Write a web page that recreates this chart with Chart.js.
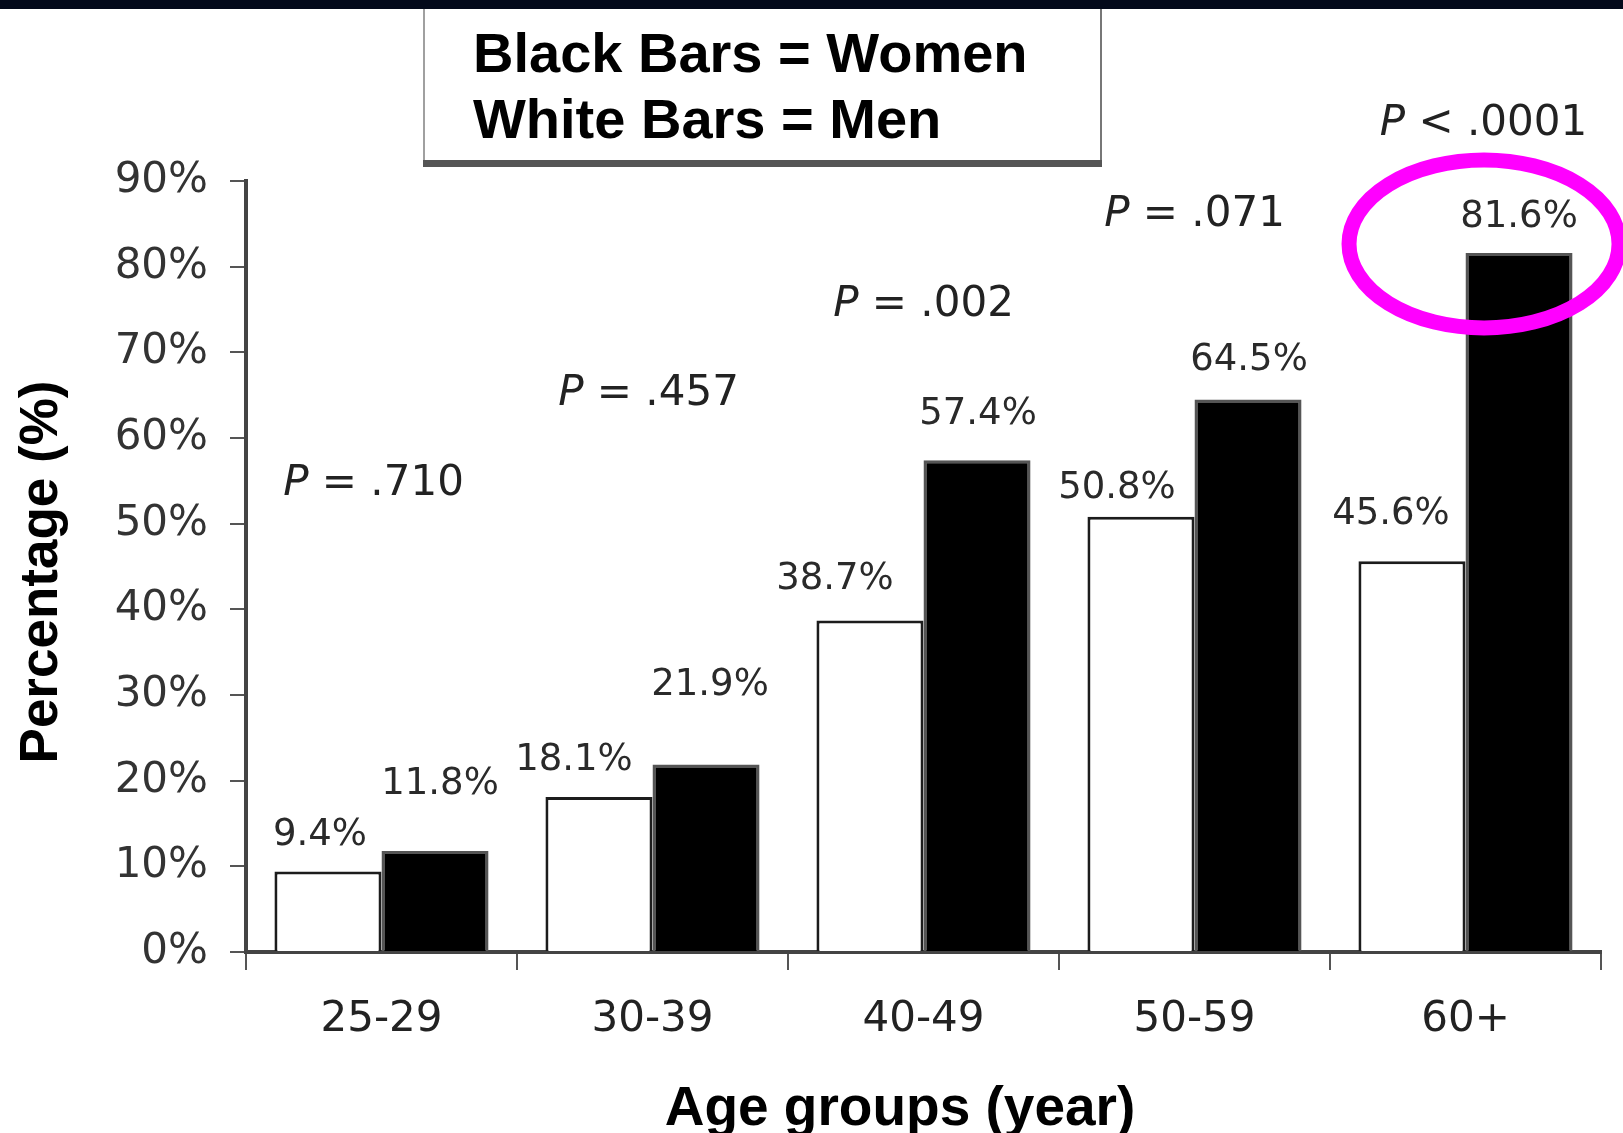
<!DOCTYPE html>
<html>
<head>
<meta charset="utf-8">
<script src="https://cdn.jsdelivr.net/npm/chart.js@4"></script>
<style>
  html, body { margin: 0; padding: 0; background: #fff; }
  #wrap { width: 1623px; height: 1133px; position: relative; }
</style>
</head>
<body>
<div id="wrap"><canvas id="chart"></canvas></div>
<script>
const ageGroups = ['25-29', '30-39', '40-49', '50-59', '60+'];
const menPct    = [9.4, 18.1, 38.7, 50.8, 45.6];
const womenPct  = [11.8, 21.9, 57.4, 64.5, 81.6];
const pSign     = ['=', '=', '=', '=', '<'];
const pText     = ['.710', '.457', '.002', '.071', '.0001'];
const legendLines = ['Black Bars = Women', 'White Bars = Men'];

const TICK_FONT  = '"DejaVu Sans", sans-serif';
const TITLE_FONT = '"Liberation Sans", Arial, sans-serif';

// extra drawing: legend box, value labels, P values, axis titles, highlight ring
const overlay = {
  id: 'overlay',
  afterDraw(chart, args, opts) {
    const ctx = chart.ctx;
    const y = chart.scales.y;
    const x = chart.scales.x;
    ctx.save();

    // legend box hanging from the top strip
    ctx.fillStyle = '#fff';
    ctx.fillRect(424, 0, 678, 166);
    ctx.fillStyle = '#a0a0a0';
    ctx.fillRect(423, 0, 2, 166);
    ctx.fillStyle = '#777';
    ctx.fillRect(1100, 0, 2, 166);
    ctx.fillStyle = '#555';
    ctx.fillRect(423, 160, 679, 7);
    ctx.fillStyle = '#03091a';
    ctx.fillRect(0, 0, chart.width, 9);

    ctx.fillStyle = '#000';
    ctx.font = 'bold 56px ' + TITLE_FONT;
    ctx.textAlign = 'left';
    ctx.textBaseline = 'alphabetic';
    ctx.fillText(legendLines[0], 473, 72);
    ctx.fillText(legendLines[1], 473, 138);

    // value labels over each bar
    ctx.font = '37px ' + TICK_FONT;
    ctx.fillStyle = '#2a2a2a';
    ctx.textAlign = 'center';
    ctx.textBaseline = 'middle';
    [0, 1].forEach(di => {
      const meta = chart.getDatasetMeta(di);
      const vals = chart.data.datasets[di].data;
      const shift = opts.labelShift[di];
      meta.data.forEach((bar, i) => {
        ctx.fillText(vals[i].toFixed(1) + '%', bar.x + shift[i][0], bar.y - shift[i][1]);
      });
    });

    // P values per age group
    ctx.fillStyle = '#222';
    ctx.textAlign = 'left';
    ageGroups.forEach((g, i) => {
      const italic = 'italic 42px ' + TICK_FONT;
      const plain = '42px ' + TICK_FONT;
      const rest = ' ' + pSign[i] + ' ' + pText[i];
      ctx.font = italic;
      const wP = ctx.measureText('P').width;
      ctx.font = plain;
      const wR = ctx.measureText(rest).width;
      const cx = x.getPixelForValue(i) + opts.pShift[i];
      const cy = y.getPixelForValue(opts.pLevel[i]);
      const x0 = cx - (wP + wR) / 2;
      ctx.font = italic;
      ctx.fillText('P', x0, cy);
      ctx.font = plain;
      ctx.fillText(rest, x0 + wP, cy);
    });

    // axis titles
    ctx.fillStyle = '#000';
    ctx.textAlign = 'center';
    ctx.textBaseline = 'alphabetic';
    ctx.font = 'bold 55px ' + TITLE_FONT;
    ctx.fillText('Age groups (year)', 900, 1125);
    ctx.font = 'bold 53px ' + TITLE_FONT;
    ctx.save();
    ctx.translate(57, 572);
    ctx.rotate(-Math.PI / 2);
    ctx.fillText('Percentage (%)', 0, 0);
    ctx.restore();

    // ring around the 60+ women bar
    const top = chart.getDatasetMeta(1).data[4];
    ctx.strokeStyle = '#ff00ff';
    ctx.lineWidth = 15;
    ctx.beginPath();
    ctx.ellipse(top.x - 35, top.y - 9, 135, 84, 0, 0, Math.PI * 2);
    ctx.stroke();

    ctx.restore();
  }
};

new Chart(document.getElementById('chart'), {
  type: 'bar',
  data: {
    labels: ageGroups,
    datasets: [
      {
        label: 'Men',
        data: menPct,
        backgroundColor: '#fff',
        borderColor: '#1c1c1c',
        borderWidth: 3,
        borderSkipped: 'bottom',
      },
      {
        label: 'Women',
        data: womenPct,
        backgroundColor: '#000',
        borderColor: '#555',
        borderWidth: 3,
        borderSkipped: 'bottom',
      },
    ],
  },
  options: {
    responsive: true,
    maintainAspectRatio: false,
    animation: false,
    datasets: { bar: { categoryPercentage: 0.79, barPercentage: 1.0 } },
    layout: { padding: { top: 181, right: 22, bottom: 0, left: 0 } },
    plugins: {
      legend: { display: false },
      tooltip: { enabled: false },
      overlay: {
        labelShift: [
          [[-8, 36], [-25, 37], [-35, 41], [-24, 28], [-21, 47]],
          [[5, 67], [4, 79], [1, 46], [1, 39], [0, 36]],
        ],
        pShift: [-8, -4, 0, 0, 18],
        pLevel: [54.6, 65.1, 75.5, 86.0, 96.6],
      },
    },
    scales: {
      x: {
        afterFit: s => { s.height = 181; },
        grid: { offset: true, drawOnChartArea: false, tickLength: 18, color: '#555', lineWidth: 2 },
        border: { color: '#444', width: 4 },
        ticks: { color: '#222', padding: 25, font: { family: TICK_FONT, size: 42 } },
      },
      y: {
        min: 0,
        max: 90,
        afterFit: s => { s.width = 246; },
        grid: { drawOnChartArea: false, tickLength: 16, color: '#555', lineWidth: 2 },
        border: { color: '#444', width: 4 },
        ticks: {
          stepSize: 10,
          color: '#333',
          padding: 22,
          font: { family: TICK_FONT, size: 42 },
          callback: v => v + '%',
        },
      },
    },
  },
  plugins: [overlay],
});
</script>
</body>
</html>
